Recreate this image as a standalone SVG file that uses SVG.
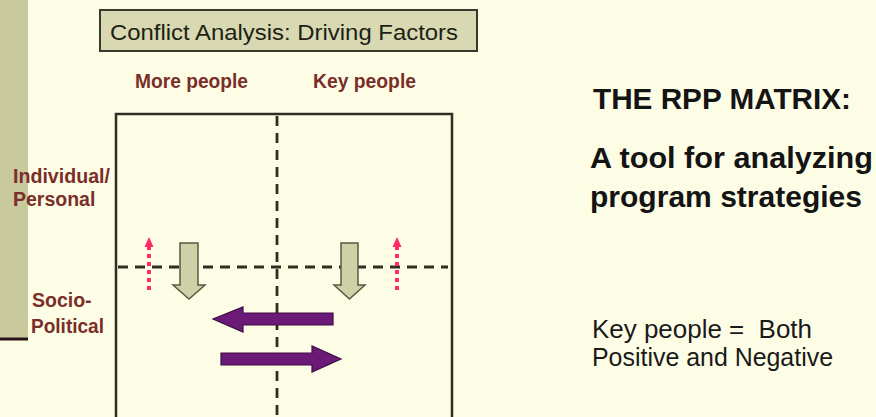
<svg xmlns="http://www.w3.org/2000/svg" width="876" height="417" viewBox="0 0 876 417">
<defs>
<style>
.lbl{font-family:"Liberation Sans",Arial,sans-serif;font-weight:bold;fill:#7a2e2a;font-size:19.5px}
.dash{stroke:#2e2e22;stroke-width:2.8;stroke-dasharray:10,7;fill:none}
.green{fill:#cfd0a8;stroke:#5a5a40;stroke-width:1.5}
.purple{fill:#6c1a78;stroke:#3c0c44;stroke-width:1.2}
.pink{stroke:#ff2a6a;stroke-width:4;stroke-dasharray:4,4;fill:none}
.big{font-family:"Liberation Sans",Arial,sans-serif;font-weight:bold;fill:#141414;font-size:30px}
.norm{font-family:"Liberation Sans",Arial,sans-serif;fill:#1a1a1a;font-size:25px}
</style>
</defs>
<rect width="876" height="417" fill="#fdfde6"/>
<rect x="0" y="0" width="28" height="338" fill="#c8c99c"/>
<line x1="0" y1="339" x2="28" y2="339" stroke="#2a1418" stroke-width="3"/>
<g id="title">
<rect x="100" y="10" width="377" height="41" fill="#d8d9b2" stroke="#3a3a2c" stroke-width="2"/>
<text x="110" y="40" textLength="348" lengthAdjust="spacingAndGlyphs" font-family="Liberation Sans, Arial, sans-serif" font-size="22" fill="#1e1e14">Conflict Analysis: Driving Factors</text>
</g>
<g id="col-labels">
<text class="lbl" x="135" y="88" textLength="113" lengthAdjust="spacingAndGlyphs">More people</text>
<text class="lbl" x="313" y="88" textLength="103" lengthAdjust="spacingAndGlyphs">Key people</text>
</g>
<g id="row-labels">
<text class="lbl" x="13" y="183" textLength="97" lengthAdjust="spacingAndGlyphs">Individual/</text>
<text class="lbl" x="13" y="206">Personal</text>
<text class="lbl" x="32" y="307">Socio-</text>
<text class="lbl" x="31" y="333" textLength="73" lengthAdjust="spacingAndGlyphs">Political</text>
</g>
<g id="matrix">
<path d="M116,417 V114 H452 V417" fill="none" stroke="#2e2e22" stroke-width="2.5"/>
<line class="dash" x1="277" y1="116" x2="277" y2="417"/>
<line class="dash" x1="118" y1="267" x2="448" y2="267"/>
</g>
<g id="connectors">
<path class="green" d="M180,243 H198 V285 H205 L189,299 L173,285 H180 Z"/>
<path class="green" d="M341,243 H358 V285 H365 L349.5,299 L334,285 H341 Z"/>
<line class="pink" x1="149" y1="290" x2="149" y2="246"/>
<path d="M144.5,247 L149,237 L153.5,247 Z" fill="#ff2a6a"/>
<line class="pink" x1="397" y1="290" x2="397" y2="246"/>
<path d="M392.5,247 L397,237 L401.5,247 Z" fill="#ff2a6a"/>
<path class="purple" d="M333,313 V325 H243 V332 L213,319 L243,307 V313 Z"/>
<path class="purple" d="M221,353 V365 H312 V372 L341,359 L312,346 V353 Z"/>
</g>
<g id="side-text">
<text class="big" x="593" y="109" textLength="258" lengthAdjust="spacingAndGlyphs">THE RPP MATRIX:</text>
<text class="big" x="590" y="168" textLength="283" lengthAdjust="spacingAndGlyphs">A tool for analyzing</text>
<text class="big" x="590" y="207" textLength="272" lengthAdjust="spacingAndGlyphs">program strategies</text>
<text class="norm" x="592" y="338" textLength="220" lengthAdjust="spacingAndGlyphs" xml:space="preserve">Key people =  Both</text>
<text class="norm" x="592" y="366" textLength="241" lengthAdjust="spacingAndGlyphs">Positive and Negative</text>
</g>
</svg>
